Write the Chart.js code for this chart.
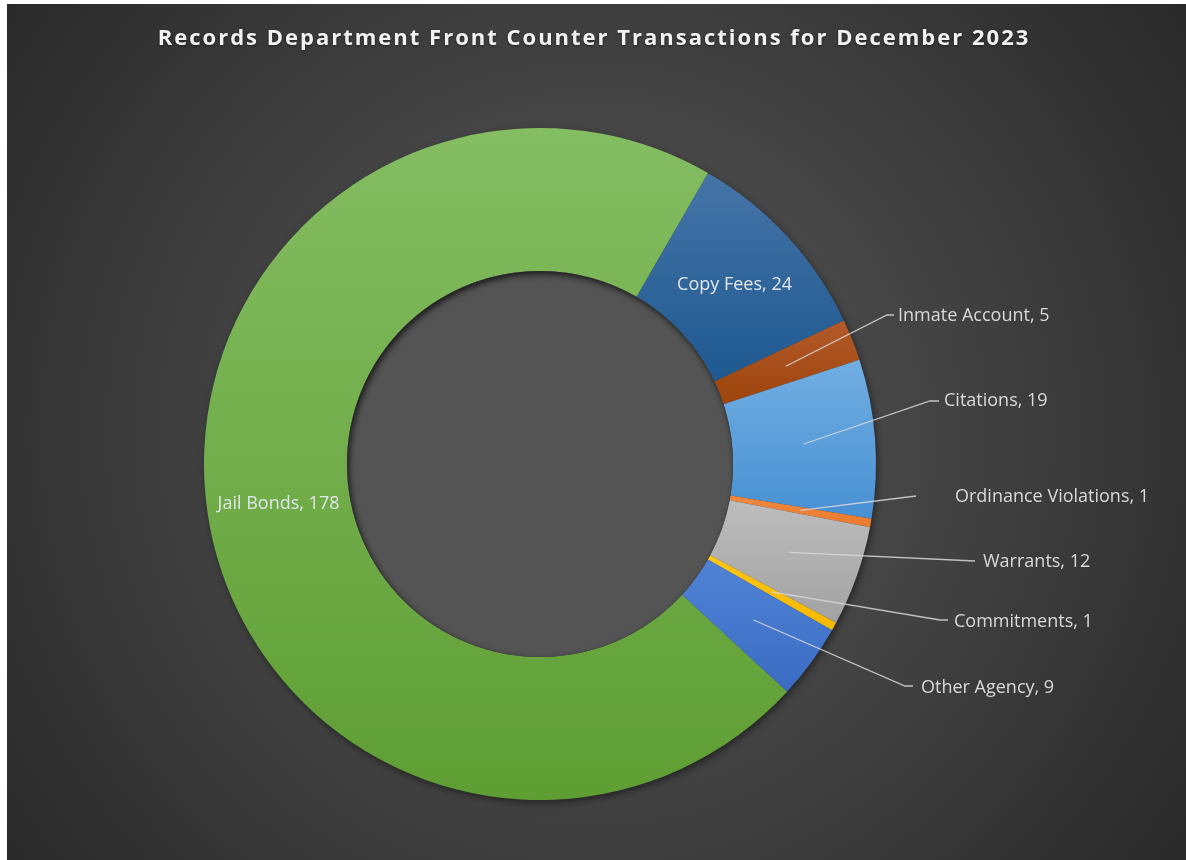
<!DOCTYPE html>
<html>
<head>
<meta charset="utf-8">
<title>Records Department Front Counter Transactions</title>
<script src="https://cdn.jsdelivr.net/npm/chart.js@4.4.1/dist/chart.umd.min.js"></script>
<style>
  html, body { margin: 0; padding: 0; background: #fff; }
  #wrap { position: absolute; left: 7px; top: 4px; width: 1179px; height: 856px; }
</style>
</head>
<body>
<div id="wrap"><canvas id="myChart"></canvas></div>
<script>
var categories = ['Copy Fees', 'Inmate Account', 'Citations', 'Ordinance Violations',
                  'Warrants', 'Commitments', 'Other Agency', 'Jail Bonds'];
var transactions = [24, 5, 19, 1, 12, 1, 9, 178];
var chartTitle = 'Records Department Front Counter Transactions for December 2023';

// light (top) / dark (bottom) shade of every slice
var sliceColors = [
  ['#4674a8', '#1d5990'],
  ['#b45a2c', '#9c440a'],
  ['#72aee2', '#4790d3'],
  ['#f08840', '#ea7a2e'],
  ['#bdbdbd', '#a2a2a2'],
  ['#ffc71a', '#f5b800'],
  ['#5083d6', '#3a6bc2'],
  ['#84bd62', '#5f9e33']
];

// outside labels: text anchor and leader bends, offsets from the ring centre
// null means the label goes inside its slice
var labelSpots = [
  null,
  { text: [358, -148], bends: [[347, -149], [354, -149]] },
  { text: [404, -63],  bends: [[390, -63], [399, -63]] },
  { text: [415, 33],   bends: [[376, 32]] },
  { text: [443, 98],   bends: [[435, 97]] },
  { text: [414, 158],  bends: [[400, 156], [408, 156]] },
  { text: [381, 224],  bends: [[365, 222], [373, 222]] },
  null
];

var RING = 336;
var CUT = 0.5744;
var ROTATION = 30;

function sliceFill(c) {
  var pair = sliceColors[c.dataIndex] || sliceColors[0];
  var area = c.chart.chartArea;
  if (!area || c.dataIndex === undefined) return pair[1];
  var vals = c.chart.data.datasets[0].data;
  var total = vals.reduce(function (a, b) { return a + b; }, 0);
  var before = 0;
  for (var i = 0; i < c.dataIndex; i++) before += vals[i];
  var a0 = (ROTATION - 90) * Math.PI / 180 + before / total * 2 * Math.PI;
  var a1 = a0 + vals[c.dataIndex] / total * 2 * Math.PI;
  var cy = (area.top + area.bottom) / 2;
  var top = Infinity, bot = -Infinity;
  for (var k = 0; k <= 60; k++) {
    var a = a0 + (a1 - a0) * k / 60;
    [RING, RING * CUT].forEach(function (r) {
      var y = cy + r * Math.sin(a);
      if (y < top) top = y;
      if (y > bot) bot = y;
    });
  }
  var g = c.chart.ctx.createLinearGradient(0, top, 0, bot);
  g.addColorStop(0, pair[0]);
  g.addColorStop(1, pair[1]);
  return g;
}

// dark backdrop and the title
var backdrop = {
  id: 'backdrop',
  beforeDraw: function (chart) {
    var c = chart.ctx, w = chart.width, h = chart.height;
    c.save();
    var g = c.createRadialGradient(586, 426, 0, 586, 426, 780);
    g.addColorStop(0, '#5a5a5a');
    g.addColorStop(1, '#262626');
    c.fillStyle = g;
    c.fillRect(0, 0, w, h);

    c.font = 'bold 22px "Open Sans"';
    c.letterSpacing = '2px';
    c.textAlign = 'center';
    c.textBaseline = 'middle';
    c.fillStyle = '#f2f2f2';
    c.shadowColor = 'rgba(0,0,0,0.45)';
    c.shadowBlur = 3;
    c.shadowOffsetY = 1;
    c.fillText(chartTitle, 587, 35);
    c.restore();
  }
};

// soft shadow under the ring, and the shaded hole
var ringShade = {
  id: 'ringShade',
  beforeDatasetsDraw: function (chart) {
    var arc = chart.getDatasetMeta(0).data[0];
    if (!arc) return;
    var c = chart.ctx;
    c.save();
    c.shadowColor = 'rgba(0,0,0,0.55)';
    c.shadowBlur = 8;
    c.shadowOffsetX = 2;
    c.shadowOffsetY = 3;
    c.fillStyle = '#333';
    c.beginPath();
    c.arc(arc.x, arc.y, arc.outerRadius - 1, 0, Math.PI * 2);
    c.fill();
    c.restore();
  },
  afterDatasetsDraw: function (chart) {
    var arc = chart.getDatasetMeta(0).data[0];
    if (!arc) return;
    var c = chart.ctx, r = arc.innerRadius;
    c.save();
    c.beginPath();
    c.arc(arc.x, arc.y, r, 0, Math.PI * 2);
    c.fillStyle = '#545454';
    c.fill();
    c.clip();
    c.shadowColor = 'rgba(0,0,0,0.7)';
    c.shadowBlur = 6;
    c.shadowOffsetX = 2;
    c.shadowOffsetY = 3;
    c.beginPath();
    c.rect(arc.x - r - 50, arc.y - r - 50, 2 * r + 100, 2 * r + 100);
    c.arc(arc.x, arc.y, r, 0, Math.PI * 2, true);
    c.fillStyle = '#545454';
    c.fill();
    c.restore();
  }
};

// "Name, value" labels with leader lines
var sliceLabels = {
  id: 'sliceLabels',
  afterDatasetsDraw: function (chart) {
    var meta = chart.getDatasetMeta(0);
    var vals = chart.data.datasets[0].data;
    var c = chart.ctx;
    c.save();
    c.font = '18px "Open Sans"';
    c.textBaseline = 'middle';
    meta.data.forEach(function (arc, i) {
      var text = chart.data.labels[i] + ', ' + vals[i];
      var p = arc.tooltipPosition();
      var spot = labelSpots[i];
      if (!spot) {
        c.textAlign = 'center';
        c.fillStyle = '#e2e6ea';
        c.fillText(text, p.x, p.y);
        return;
      }
      c.strokeStyle = 'rgba(217,217,217,0.85)';
      c.lineWidth = 1.3;
      c.beginPath();
      c.moveTo(p.x, p.y);
      spot.bends.forEach(function (b) { c.lineTo(arc.x + b[0], arc.y + b[1]); });
      c.stroke();
      c.textAlign = 'left';
      c.fillStyle = '#d9d9d9';
      c.fillText(text, arc.x + spot.text[0], arc.y + spot.text[1]);
    });
    c.restore();
  }
};

var ctx = document.getElementById('myChart');
var myChart = new Chart(ctx, {
  type: 'doughnut',
  data: {
    labels: categories,
    datasets: [{
      data: transactions,
      backgroundColor: sliceFill,
      borderWidth: 0,
      hoverOffset: 0
    }]
  },
  options: {
    responsive: true,
    maintainAspectRatio: false,
    animation: false,
    rotation: ROTATION,
    radius: RING,
    cutout: (CUT * 100) + '%',
    layout: { padding: { left: 0, right: 113, top: 64, bottom: 0 } },
    plugins: {
      legend: { display: false },
      tooltip: { enabled: false }
    }
  },
  plugins: [backdrop, ringShade, sliceLabels]
});
</script>
</body>
</html>
